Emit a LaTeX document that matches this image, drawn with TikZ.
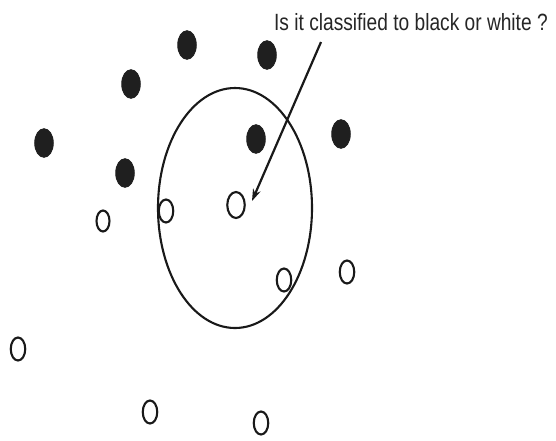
\documentclass[tikz,border=0pt]{standalone}
\usepackage{fontspec}
\setmainfont{Liberation Sans}
\usetikzlibrary{shapes.geometric,arrows.meta}
\begin{document}
\begin{tikzpicture}[x=1pt,y=-1pt,
  blackdot/.style={ellipse,fill=black!88,draw=black!88,line width=1pt,minimum width=18.5pt,minimum height=28.5pt,inner sep=0pt},
  whitedot/.style={ellipse,draw=black!90,line width=2.1pt,fill=white,minimum width=14.5pt,minimum height=23pt,inner sep=0pt},
  testdot/.style={whitedot,minimum width=17.5pt,minimum height=26pt},
  region/.style={ellipse,draw=black!90,line width=2.1pt,minimum width=154pt,minimum height=240pt,inner sep=0pt},
  pointer/.style={draw=black!90,line width=2.2pt,-{Stealth[length=12pt,width=8pt]}}]
\useasboundingbox (0,0) rectangle (556,440);
\fill[white] (0,0) rectangle (556,440);
% neighbourhood
\node[region] (nb) at (235,208) {};
% black points
\node[blackdot] (b1) at (187,45) {};
\node[blackdot] (b2) at (267,55) {};
\node[blackdot] (b3) at (131,84) {};
\node[blackdot] (b4) at (44,143) {};
\node[blackdot] (b5) at (256,139) {};
\node[blackdot] (b6) at (341,134) {};
\node[blackdot] (b7) at (125,173) {};
% white points
\node[whitedot,minimum width=13pt,minimum height=21pt] (w1) at (103,221) {};
\node[whitedot] (w2) at (166,211) {};
\node[testdot] (q) at (236,205) {};
\node[whitedot] (w3) at (284,280) {};
\node[whitedot] (w4) at (347,272) {};
\node[whitedot] (w5) at (18,349) {};
\node[whitedot] (w6) at (150,412) {};
\node[whitedot] (w7) at (261,423) {};
% label and arrow
\node[anchor=base west,inner sep=0pt,xscale=0.815,font=\fontsize{23.5}{26}\selectfont,text=black!85] (lbl) at (274,30) {Is it classified to black or white ?};
\coordinate (from) at (321,42);
\coordinate (tip) at (252,201);
\draw[pointer] (from) -- (tip);
\end{tikzpicture}
\end{document}
